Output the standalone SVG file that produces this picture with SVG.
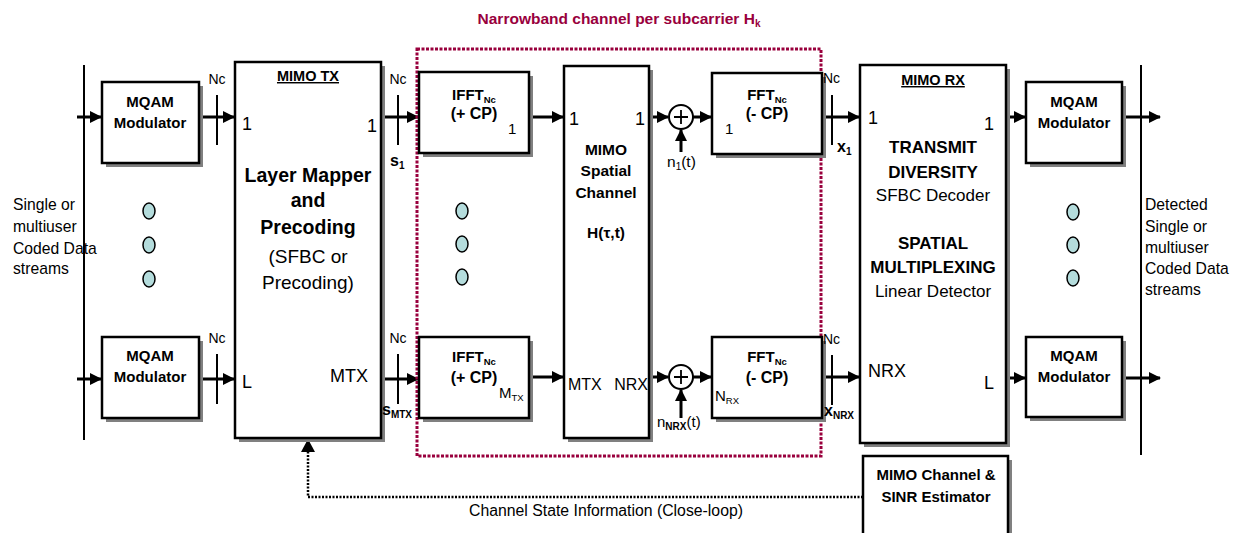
<svg xmlns="http://www.w3.org/2000/svg" width="1239" height="533" viewBox="0 0 1239 533">
<defs>
<marker id="ah" markerWidth="12" markerHeight="12" refX="11" refY="6" orient="auto" markerUnits="userSpaceOnUse"><path d="M0,0 L12,6 L0,12 z" fill="#000"/></marker>
</defs>
<style>
text{font-family:"Liberation Sans",Arial,sans-serif;fill:#000}
.b{font-weight:bold}
.box{fill:#fff;stroke:#000;stroke-width:2.5}
.sh{fill:#808080}
.ar{stroke:#000;stroke-width:3;fill:none;marker-end:url(#ah)}
.tk{stroke:#000;stroke-width:2}
.ov{fill:#b4dcdc;stroke:#000;stroke-width:1.5}
.m{font-size:15px;font-weight:bold;text-anchor:middle}
.nc{font-size:14px}
.n1{font-size:18px}
.lb{font-size:15.7px}
</style>
<rect width="1239" height="533" fill="#fff"/>

<text x="619" y="24" class="b" font-size="15.5" text-anchor="middle" style="fill:#99003D">Narrowband channel per subcarrier H<tspan font-size="10" dy="3" style="fill:#99003D">k</tspan></text>

<g id="connectors">
<line x1="84" y1="65" x2="84" y2="440" stroke="#000" stroke-width="2"/>
<line x1="1141" y1="65" x2="1141" y2="455" stroke="#000" stroke-width="2"/>
<line class="ar" x1="77" y1="117" x2="101" y2="117"/>
<line class="ar" x1="77" y1="379" x2="101" y2="379"/>
<line class="ar" x1="199" y1="117" x2="234" y2="117"/>
<line class="ar" x1="199" y1="379" x2="234" y2="379"/>
<line class="tk" x1="217" y1="95" x2="217" y2="145"/>
<line class="tk" x1="217" y1="354" x2="217" y2="404"/>
<line class="ar" x1="381" y1="117" x2="418" y2="117"/>
<line class="ar" x1="381" y1="379" x2="418" y2="379"/>
<line class="tk" x1="398" y1="95" x2="398" y2="145"/>
<line class="tk" x1="398" y1="354" x2="398" y2="404"/>
<line class="ar" x1="529" y1="117" x2="563" y2="117"/>
<line class="ar" x1="529" y1="377" x2="563" y2="377"/>
<line class="ar" x1="649" y1="117" x2="668" y2="117"/>
<line class="ar" x1="649" y1="377" x2="668" y2="377"/>
<line class="ar" x1="693" y1="117" x2="711" y2="117"/>
<line class="ar" x1="693" y1="377" x2="711" y2="377"/>
<line class="ar" x1="681" y1="152" x2="681" y2="130"/>
<line class="ar" x1="681" y1="418" x2="681" y2="390"/>
<line class="ar" x1="822" y1="117" x2="859" y2="117"/>
<line class="ar" x1="822" y1="377" x2="859" y2="377"/>
<line class="tk" x1="832" y1="95" x2="832" y2="145"/>
<line class="tk" x1="832" y1="355" x2="832" y2="405"/>
<line class="ar" x1="1006" y1="117" x2="1025" y2="117"/>
<line class="ar" x1="1006" y1="378" x2="1025" y2="378"/>
<line class="ar" x1="1122" y1="117" x2="1160" y2="117"/>
<line class="ar" x1="1122" y1="378" x2="1160" y2="378"/>
<polyline points="863,497 308,497 308,452" fill="none" stroke="#000" stroke-width="2.5" stroke-dasharray="2 1.5"/>
<path d="M301,452 L308,439 L315,452 z" fill="#000"/>
</g>
<text x="606" y="516" font-size="15.8" text-anchor="middle">Channel State Information (Close-loop)</text>

<rect x="417" y="49" width="404" height="407" fill="none" stroke="#99003D" stroke-width="3" stroke-dasharray="3 1.5"/>

<g id="mqam_tx1">
<rect class="sh" x="106" y="86" width="97" height="81"/>
<rect class="box" x="102" y="82" width="97" height="81"/>
<text class="m" x="150" y="107">MQAM</text>
<text class="m" x="150" y="128">Modulator</text>
</g>
<g id="mqam_txL">
<rect class="sh" x="106" y="341" width="97" height="81"/>
<rect class="box" x="102" y="337" width="97" height="81"/>
<text class="m" x="150" y="361">MQAM</text>
<text class="m" x="150" y="382">Modulator</text>
</g>
<text class="nc" x="217" y="84" text-anchor="middle">Nc</text>
<text class="nc" x="217" y="343" text-anchor="middle">Nc</text>

<g id="dots_left">
<ellipse class="ov" cx="149" cy="211" rx="6" ry="8"/>
<ellipse class="ov" cx="149" cy="245" rx="6" ry="8"/>
<ellipse class="ov" cx="149" cy="279" rx="6" ry="8"/>
</g>
<g id="input_label">
<text class="lb" x="13" y="210">Single or</text>
<text class="lb" x="13" y="232">multiuser</text>
<text class="lb" x="13" y="254">Coded Data</text>
<text class="lb" x="13" y="274">streams</text>
</g>

<g id="mimo_tx">
<rect class="sh" x="239" y="66" width="146" height="376"/>
<rect class="box" x="235" y="62" width="146" height="376"/>
<text x="308" y="81" class="b" font-size="14.5" text-anchor="middle" text-decoration="underline">MIMO TX</text>
<text class="n1" x="242" y="130">1</text>
<text class="n1" x="377" y="132" text-anchor="end">1</text>
<text x="308" y="182" class="b" font-size="19.5" text-anchor="middle">Layer Mapper</text>
<text x="308" y="207" class="b" font-size="19.5" text-anchor="middle">and</text>
<text x="308" y="234" class="b" font-size="19.5" text-anchor="middle">Precoding</text>
<text x="308" y="263" font-size="19" text-anchor="middle">(SFBC or</text>
<text x="308" y="289" font-size="19" text-anchor="middle">Precoding)</text>
<text class="n1" x="242" y="388">L</text>
<text class="n1" x="368" y="382" text-anchor="end">MTX</text>
</g>
<text class="nc" x="398" y="84" text-anchor="middle">Nc</text>
<text class="nc" x="398" y="343" text-anchor="middle">Nc</text>
<text x="390" y="166" class="b" font-size="16">s<tspan font-size="10" dy="3">1</tspan></text>
<text x="382" y="415" class="b" font-size="16">s<tspan font-size="10" dy="3">MTX</tspan></text>

<g id="ifft1">
<rect class="sh" x="423" y="76" width="110" height="81"/>
<rect class="box" x="419" y="72" width="110" height="81"/>
<text x="474" y="100" class="b" font-size="15" text-anchor="middle">IFFT<tspan font-size="9.5" dy="3">Nc</tspan></text>
<text x="474" y="119" class="b" font-size="16" text-anchor="middle">(+ CP)</text>
<text x="508" y="134" font-size="15">1</text>
</g>
<g id="ifftM">
<rect class="sh" x="423" y="341" width="110" height="81"/>
<rect class="box" x="419" y="337" width="110" height="81"/>
<text x="474" y="362" class="b" font-size="15" text-anchor="middle">IFFT<tspan font-size="9.5" dy="3">Nc</tspan></text>
<text x="474" y="383" class="b" font-size="16" text-anchor="middle">(+ CP)</text>
<text x="499" y="398" font-size="15">M<tspan font-size="9.5" dy="3">TX</tspan></text>
</g>
<g id="dots_mid">
<ellipse class="ov" cx="462" cy="211" rx="6" ry="8"/>
<ellipse class="ov" cx="462" cy="244" rx="6" ry="8"/>
<ellipse class="ov" cx="462" cy="277" rx="6" ry="8"/>
</g>

<g id="mimo_channel">
<rect class="sh" x="568" y="70" width="85" height="372"/>
<rect class="box" x="564" y="66" width="85" height="372"/>
<text class="n1" x="569" y="125">1</text>
<text class="n1" x="645" y="125" text-anchor="end">1</text>
<text x="606" y="155" class="b" font-size="15.5" text-anchor="middle">MIMO</text>
<text x="606" y="176" class="b" font-size="15.5" text-anchor="middle">Spatial</text>
<text x="606" y="198" class="b" font-size="15.5" text-anchor="middle">Channel</text>
<text x="606" y="238" class="b" font-size="15.5" text-anchor="middle">H(τ,t)</text>
<text x="568" y="390" font-size="16">MTX</text>
<text x="648" y="390" font-size="16" text-anchor="end">NRX</text>
</g>

<g id="sum1">
<circle cx="681" cy="117" r="12" fill="#fff" stroke="#000" stroke-width="2"/>
<path d="M681,110 V124 M674,117 H688" stroke="#000" stroke-width="1.8"/>
<text x="667" y="167" font-size="15.5">n<tspan font-size="10" dy="3">1</tspan><tspan dy="-3">(t)</tspan></text>
</g>
<g id="sumN">
<circle cx="681" cy="377" r="12" fill="#fff" stroke="#000" stroke-width="2"/>
<path d="M681,370 V384 M674,377 H688" stroke="#000" stroke-width="1.8"/>
<text x="657" y="427" font-size="15">n<tspan font-size="10" dy="3" class="b">NRX</tspan><tspan dy="-3">(t)</tspan></text>
</g>

<g id="fft1">
<rect class="sh" x="716" y="77" width="110" height="81"/>
<rect class="box" x="712" y="73" width="110" height="81"/>
<text x="767" y="100" class="b" font-size="15" text-anchor="middle">FFT<tspan font-size="9.5" dy="3">Nc</tspan></text>
<text x="767" y="119" class="b" font-size="16" text-anchor="middle">(- CP)</text>
<text x="725" y="134" font-size="15">1</text>
</g>
<g id="fftN">
<rect class="sh" x="716" y="341" width="110" height="81"/>
<rect class="box" x="712" y="337" width="110" height="81"/>
<text x="767" y="362" class="b" font-size="15" text-anchor="middle">FFT<tspan font-size="9.5" dy="3">Nc</tspan></text>
<text x="767" y="383" class="b" font-size="16" text-anchor="middle">(- CP)</text>
<text x="715" y="401" font-size="15">N<tspan font-size="9.5" dy="3">RX</tspan></text>
</g>
<text class="nc" x="823" y="83">Nc</text>
<text class="nc" x="823" y="344">Nc</text>
<text x="837" y="152" class="b" font-size="16">x<tspan font-size="10" dy="3">1</tspan></text>
<text x="824" y="416" class="b" font-size="16">x<tspan font-size="10" dy="3">NRX</tspan></text>

<g id="mimo_rx">
<rect class="sh" x="864" y="69" width="146" height="378"/>
<rect class="box" x="860" y="65" width="146" height="378"/>
<text x="933" y="85" class="b" font-size="14.5" text-anchor="middle" text-decoration="underline">MIMO RX</text>
<text class="n1" x="868" y="124">1</text>
<text class="n1" x="994" y="130" text-anchor="end">1</text>
<text x="933" y="153" class="b" font-size="17" text-anchor="middle">TRANSMIT</text>
<text x="933" y="178" class="b" font-size="17" text-anchor="middle">DIVERSITY</text>
<text x="933" y="201" font-size="17" text-anchor="middle">SFBC Decoder</text>
<text x="933" y="249" class="b" font-size="17" text-anchor="middle">SPATIAL</text>
<text x="933" y="273" class="b" font-size="17" text-anchor="middle">MULTIPLEXING</text>
<text x="933" y="297" font-size="17" text-anchor="middle">Linear Detector</text>
<text class="n1" x="868" y="377">NRX</text>
<text class="n1" x="994" y="389" text-anchor="end">L</text>
</g>

<g id="mqam_rx1">
<rect class="sh" x="1030" y="86" width="96" height="81"/>
<rect class="box" x="1026" y="82" width="96" height="81"/>
<text class="m" x="1074" y="107">MQAM</text>
<text class="m" x="1074" y="128">Modulator</text>
</g>
<g id="mqam_rxL">
<rect class="sh" x="1030" y="341" width="96" height="80"/>
<rect class="box" x="1026" y="337" width="96" height="80"/>
<text class="m" x="1074" y="361">MQAM</text>
<text class="m" x="1074" y="382">Modulator</text>
</g>
<g id="dots_right">
<ellipse class="ov" cx="1073" cy="212" rx="6" ry="8"/>
<ellipse class="ov" cx="1073" cy="245" rx="6" ry="8"/>
<ellipse class="ov" cx="1073" cy="278" rx="6" ry="8"/>
</g>
<g id="output_label">
<text class="lb" x="1145" y="210">Detected</text>
<text class="lb" x="1145" y="232">Single or</text>
<text class="lb" x="1145" y="253">multiuser</text>
<text class="lb" x="1145" y="274">Coded Data</text>
<text class="lb" x="1145" y="295">streams</text>
</g>

<g id="estimator">
<rect class="sh" x="867" y="460" width="145" height="80"/>
<rect class="box" x="863" y="456" width="145" height="85"/>
<text x="936" y="480" class="b" font-size="15" text-anchor="middle">MIMO Channel &amp;</text>
<text x="936" y="502" class="b" font-size="15" text-anchor="middle">SINR Estimator</text>
</g>
</svg>
